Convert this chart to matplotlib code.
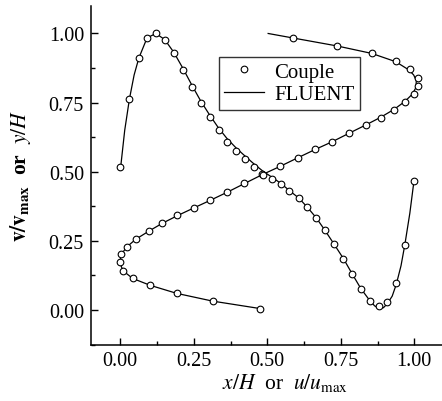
import numpy as np
import matplotlib
matplotlib.use("Agg")
import matplotlib.pyplot as plt

plt.rcParams['font.family'] = ['Liberation Serif', 'DejaVu Serif']
plt.rcParams['mathtext.fontset'] = 'stix'

# ------------- data ------------
# horizontal velocity profile: u/u_max (x axis) against y/H (y axis)
couple_u = [0.476, 0.314, 0.192, 0.102, 0.042, 0.009, -0.002, 0.002, 0.022, 0.053,
            0.097, 0.142, 0.194, 0.250, 0.305, 0.364, 0.422, 0.482, 0.543, 0.603,
            0.662, 0.720, 0.778, 0.835, 0.886, 0.932, 0.970, 0.998, 1.014, 1.013,
            0.986, 0.937, 0.855, 0.737, 0.586]
couple_y = [0.005, 0.032, 0.060, 0.089, 0.114, 0.142, 0.172, 0.202, 0.227, 0.256,
            0.285, 0.314, 0.342, 0.370, 0.397, 0.426, 0.458, 0.490, 0.519, 0.550,
            0.581, 0.608, 0.640, 0.669, 0.696, 0.725, 0.753, 0.780, 0.811, 0.840,
            0.870, 0.899, 0.929, 0.955, 0.984]

fluent_u = [0.476, 0.314, 0.192, 0.102, 0.042, 0.009, -0.002, 0.004, 0.022, 0.053,
            0.097, 0.142, 0.194, 0.250, 0.305, 0.364, 0.422, 0.482, 0.543, 0.603,
            0.662, 0.720, 0.778, 0.835, 0.886, 0.932, 0.968, 0.994, 1.006, 1.007,
            0.998, 0.982, 0.937, 0.855, 0.737, 0.586, 0.503]
fluent_y = [0.005, 0.032, 0.060, 0.089, 0.114, 0.142, 0.172, 0.202, 0.228, 0.256,
            0.285, 0.313, 0.341, 0.369, 0.396, 0.426, 0.457, 0.489, 0.519, 0.550,
            0.580, 0.608, 0.639, 0.669, 0.697, 0.726, 0.754, 0.781, 0.805, 0.830,
            0.850, 0.868, 0.898, 0.928, 0.955, 0.984, 1.000]

# vertical velocity profile: x/H (x axis) against v/v_max (y axis)
couple_x = [0.000, 0.031, 0.063, 0.091, 0.121, 0.151, 0.182, 0.213, 0.244, 0.274,
            0.305, 0.335, 0.363, 0.394, 0.425, 0.455, 0.484, 0.516, 0.546, 0.575,
            0.607, 0.636, 0.666, 0.695, 0.726, 0.759, 0.788, 0.818, 0.848, 0.879,
            0.908, 0.939, 0.968, 0.999]
couple_v = [0.516, 0.763, 0.911, 0.984, 1.000, 0.976, 0.929, 0.869, 0.807, 0.748,
            0.697, 0.650, 0.608, 0.574, 0.545, 0.518, 0.489, 0.474, 0.455, 0.430,
            0.404, 0.371, 0.333, 0.289, 0.237, 0.185, 0.130, 0.074, 0.032, 0.013,
            0.028, 0.097, 0.236, 0.466]

fluent_x = [0.000, 0.015, 0.031, 0.047, 0.063, 0.091, 0.121, 0.151, 0.182, 0.213,
            0.244, 0.274, 0.304, 0.333, 0.363, 0.394, 0.425, 0.455, 0.484, 0.516,
            0.546, 0.575, 0.607, 0.636, 0.666, 0.695, 0.726, 0.759, 0.788, 0.818,
            0.848, 0.865, 0.879, 0.895, 0.908, 0.925, 0.939, 0.955, 0.968, 0.985,
            0.999]
fluent_v = [0.505, 0.650, 0.763, 0.850, 0.911, 0.984, 1.000, 0.978, 0.932, 0.874,
            0.812, 0.755, 0.705, 0.660, 0.620, 0.586, 0.556, 0.528, 0.503, 0.480,
            0.458, 0.432, 0.405, 0.372, 0.334, 0.290, 0.240, 0.186, 0.132, 0.078,
            0.035, 0.015, 0.006, 0.008, 0.022, 0.050, 0.093, 0.160, 0.236, 0.350,
            0.466]

xticks = [0.0, 0.25, 0.5, 0.75, 1.0]
yticks = [0.0, 0.25, 0.5, 0.75, 1.0]

# ------------- figure ------------
fig = plt.figure(figsize=(4.42, 4.02), dpi=100)
ax = fig.add_axes([0.2057, 0.1405, 0.798, 0.8425])

mk = dict(linestyle='none', marker='o', markersize=4.8, markerfacecolor='white',
          markeredgecolor='black', markeredgewidth=0.8)

ax.plot(fluent_u, fluent_y, color='black', lw=0.9, zorder=2)
ax.plot(fluent_x, fluent_v, color='black', lw=0.9, zorder=2, label='FLUENT')
ax.plot(couple_u, couple_y, zorder=3, **mk)
ax.plot(couple_x, couple_v, zorder=3, label='Couple', **mk)

ax.set_xlim(-0.1, 1.1)
ax.set_ylim(-0.1, 1.1)
ax.set_xticks(xticks)
ax.set_yticks(yticks)
ax.set_xticklabels(['%.2f' % t for t in xticks])
ax.set_yticklabels(['%.2f' % t for t in yticks])
ax.set_xticks([0.125, 0.375, 0.625, 0.875], minor=True)
ax.set_yticks([-0.125, 0.125, 0.375, 0.625, 0.875], minor=True)
ax.tick_params(which='both', direction='in', labelsize=14.5, width=1.0, pad=5)
ax.tick_params(which='major', length=5)
ax.tick_params(which='minor', length=3)

for s in ['top', 'right']:
    ax.spines[s].set_visible(False)
for s in ['left', 'bottom']:
    ax.spines[s].set_linewidth(1.1)

ax.set_xlabel(r'$x/H$  or  $u/u_{\rm max}$', fontsize=15.5)
ax.xaxis.set_label_coords(0.55, -0.078)
ax.set_ylabel(r'$\mathbf{v/v}_{\mathbf{max}}$  or  $y/H$', fontsize=15.5,
              fontweight='bold')
ax.yaxis.set_label_coords(-0.165, 0.5)

handles, labels = ax.get_legend_handles_labels()
leg = ax.legend(handles[::-1], labels[::-1], loc='upper left',
                bbox_to_anchor=(0.363, 0.849), borderaxespad=0, fontsize=15,
                frameon=True, fancybox=False, edgecolor='black',
                handlelength=1.9, handletextpad=0.5, labelspacing=0.15,
                borderpad=0.25)
leg.get_frame().set_linewidth(1.0)

fig.savefig('out.png', dpi=100)
